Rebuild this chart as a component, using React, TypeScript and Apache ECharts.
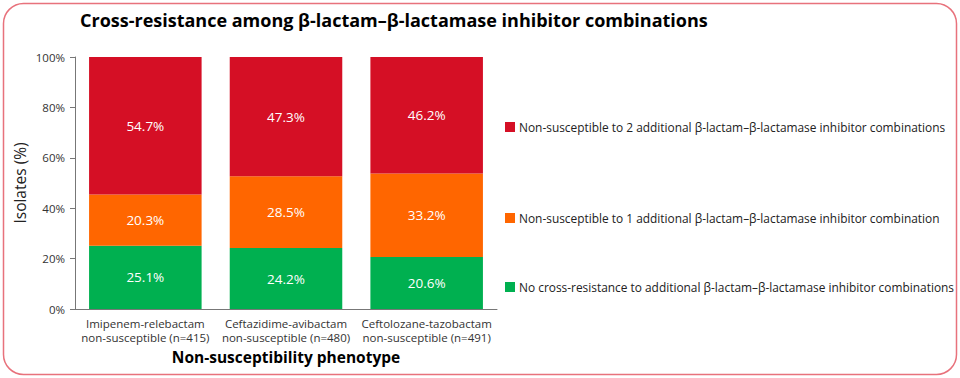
import React, { useEffect, useRef } from "react";
import * as echarts from "echarts";

const categories = [
  "Imipenem-relebactam\nnon-susceptible (n=415)",
  "Ceftazidime-avibactam\nnon-susceptible (n=480)",
  "Ceftolozane-tazobactam\nnon-susceptible (n=491)",
];
const noCross = [25.1, 24.2, 20.6];
const oneAdd = [20.3, 28.5, 33.2];
const twoAdd = [54.7, 47.3, 46.2];
const seriesNames = [
  "No cross-resistance to additional β-lactam–β-lactamase inhibitor combinations",
  "Non-susceptible to 1 additional β-lactam–β-lactamase inhibitor combination",
  "Non-susceptible to 2 additional β-lactam–β-lactamase inhibitor combinations",
];
const colors = ["#00B050", "#FF6600", "#D50F25"];
const yTicks = [0, 20, 40, 60, 80, 100];

const FONT = "'Open Sans', 'Noto Sans', sans-serif";

export default function App() {
  const ref = useRef<HTMLDivElement>(null);
  useEffect(() => {
    document.body.style.margin = "0";
    if (!ref.current) return;
    const chart = echarts.init(ref.current, null, { renderer: "svg" });
    const data = [noCross, oneAdd, twoAdd];
    const legendTops = [276, 207, 116];
    chart.setOption({
      animation: false,
      textStyle: { fontFamily: FONT },
      title: {
        text: "Cross-resistance among β-lactam–β-lactamase inhibitor combinations",
        left: 75,
        top: 6,
        textStyle: { fontSize: 18, fontWeight: "bold", color: "#000", fontFamily: FONT },
      },
      legend: seriesNames.map((n, i) => ({
        data: [n],
        left: 500,
        top: legendTops[i],
        icon: "rect",
        itemWidth: 10,
        itemHeight: 10,
        itemGap: 6,
        selectedMode: false,
        textStyle: { fontSize: 11.9, color: "#222", fontFamily: FONT, padding: [0, 0, 0, -1] },
      })),
      grid: { left: 75, right: 463, top: 57, bottom: 69 },
      xAxis: {
        type: "category",
        data: categories,
        name: "Non-susceptibility phenotype",
        nameLocation: "middle",
        nameGap: 40,
        nameTextStyle: { fontSize: 15.5, fontWeight: "bold", color: "#000", fontFamily: FONT },
        axisLine: { lineStyle: { color: "#777", width: 1 } },
        axisTick: { show: false },
        axisLabel: { fontSize: 11.5, color: "#333", lineHeight: 14, margin: 7, interval: 0, fontFamily: FONT },
      },
      yAxis: {
        type: "value",
        min: 0,
        max: 100,
        interval: 20,
        name: "Isolates (%)",
        nameLocation: "middle",
        nameGap: 47,
        nameRotate: 90,
        nameTextStyle: { fontSize: 15.5, color: "#222", fontFamily: FONT },
        axisLine: { show: true, lineStyle: { color: "#777", width: 1 } },
        axisTick: { show: true, length: 5, lineStyle: { color: "#777" } },
        splitLine: { show: false },
        axisLabel: {
          fontSize: 11.5,
          color: "#333",
          margin: 10,
          fontFamily: FONT,
          formatter: (v: number) => (yTicks.includes(v) ? v + "%" : ""),
        },
      },
      series: seriesNames.map((n, i) => ({
        name: n,
        type: "bar",
        stack: "total",
        barWidth: "80%",
        itemStyle: { color: colors[i] },
        label: {
          show: true,
          position: "inside",
          color: "#fff",
          fontSize: 13.5,
          fontFamily: FONT,
          formatter: (p: any) => p.value.toFixed(1) + "%",
        },
        data: data[i],
      })),
      graphic: [
        {
          type: "rect",
          shape: { x: 3.5, y: 3.5, width: 953, height: 371, r: 20 },
          style: { fill: "none", stroke: "#E8727C", lineWidth: 1.5 },
          silent: true,
        },
      ],
    });
    return () => chart.dispose();
  }, []);
  return <div ref={ref} style={{ width: 960, height: 378 }} />;
}
